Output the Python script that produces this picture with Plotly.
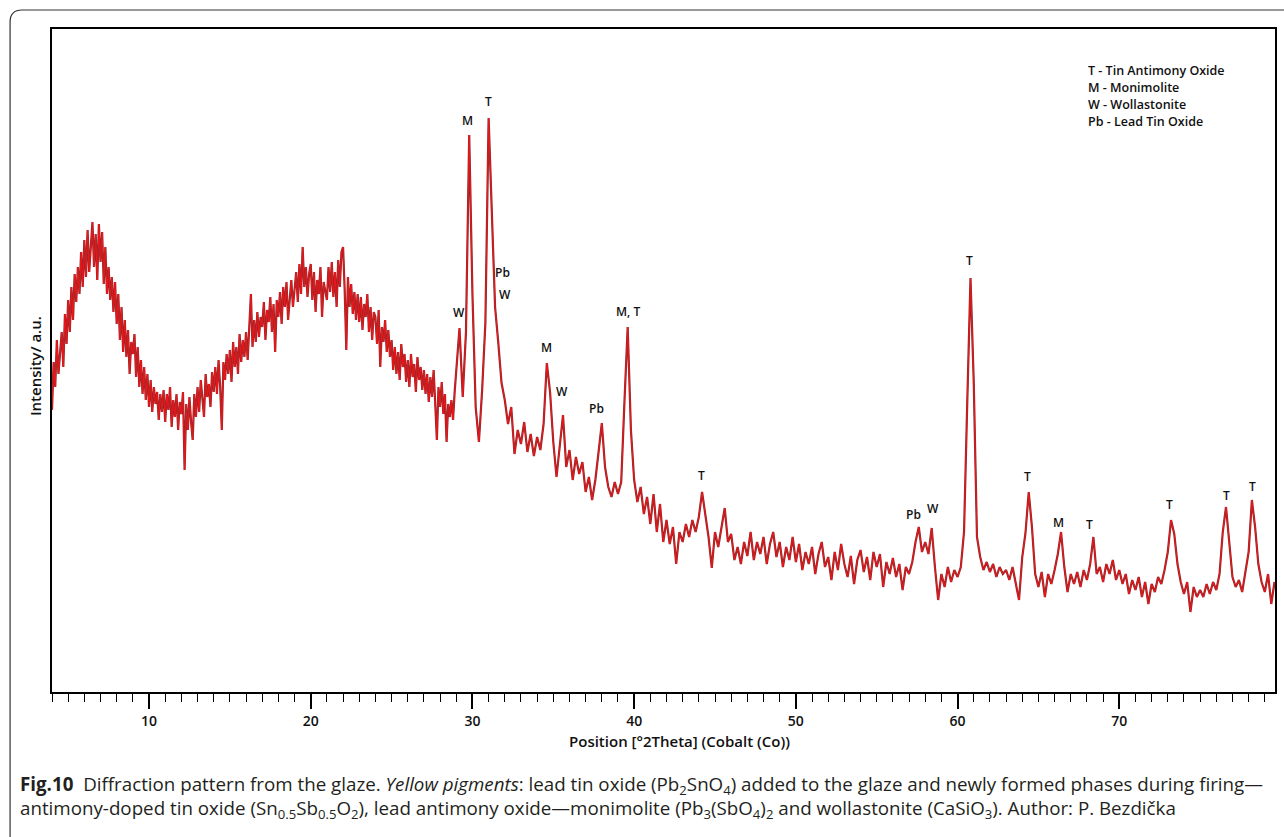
import plotly.graph_objects as go

# ---------------- data (intensity in arbitrary units) ----------------
# scan part A: 4.0 - 28.9 deg, step 0.1
scan_a_start, scan_a_step = 4.0, 0.1
intensity_a = [
    282, 330, 305, 352, 318, 342, 360, 325, 378, 348,   # 4
    392, 360, 405, 372, 418, 390, 425, 398, 440, 405,   # 5
    452, 415, 462, 420, 445, 470, 425, 458, 412, 468,   # 6
    430, 460, 408, 445, 398, 425, 392, 415, 380, 410,   # 7
    368, 398, 352, 385, 340, 372, 335, 362, 318, 350,   # 8
    338, 358, 315, 345, 305, 332, 298, 325, 292, 318,   # 9
    285, 312, 280, 305, 288, 300, 272, 298, 280, 302,   # 10
    270, 298, 282, 305, 265, 292, 275, 298, 262, 290,   # 11
    278, 300, 222, 288, 262, 295, 270, 252, 298, 275,   # 12
    305, 280, 312, 290, 275, 318, 295, 308, 285, 320,   # 13
    300, 325, 298, 332, 305, 262, 330, 312, 338, 318,   # 14
    342, 310, 350, 325, 345, 318, 358, 330, 352, 335,   # 15
    360, 332, 368, 398, 345, 372, 350, 380, 355, 375,   # 16
    365, 390, 352, 382, 370, 395, 360, 388, 340, 392,   # 17
    375, 400, 368, 405, 385, 410, 372, 398, 412, 385,   # 18
    402, 420, 390, 428, 398, 445, 405, 425, 395, 418,   # 19
    428, 392, 420, 380, 412, 398, 425, 375, 410, 400,   # 20
    392, 425, 400, 430, 395, 420, 385, 432, 405, 440,   # 21
    445, 402, 342, 415, 385, 408, 378, 400, 372, 398,   # 22
    370, 395, 362, 388, 375, 398, 360, 385, 352, 380,   # 23
    375, 348, 382, 325, 365, 350, 372, 340, 362, 335,   # 24
    352, 322, 345, 318, 340, 312, 348, 325, 338, 310,   # 25
    332, 305, 338, 315, 328, 300, 335, 312, 325, 302,   # 26
    322, 298, 318, 290, 315, 295, 322, 288, 252, 305,   # 27
    285, 310, 278, 298, 250, 288, 275, 292, 272, 300,   # 28
]
# scan part B: 29.0 - 79.6 deg, step 0.2
scan_b_start, scan_b_step = 29.0, 0.2
intensity_b = [
    319, 364, 295, 360, 557,   # 29
    398, 285, 250, 302, 369,   # 30
    574, 469, 385, 349, 309,   # 31
    292, 268, 285, 238, 262,   # 32
    248, 270, 240, 258, 236,   # 33
    255, 242, 268, 329, 300,   # 34
    250, 215, 245, 277, 225,   # 35
    242, 212, 235, 218, 230,   # 36
    200, 215, 192, 212, 240,   # 37
    269, 225, 205, 195, 210,   # 38
    198, 210, 290, 365, 262,   # 39
    212, 190, 205, 178, 195,   # 40
    168, 198, 160, 188, 150,   # 41
    172, 148, 165, 128, 160,   # 42
    150, 168, 155, 172, 160,   # 43
    175, 200, 178, 155, 124,   # 44
    160, 145, 165, 184, 150,   # 45
    158, 132, 145, 128, 150,   # 46
    136, 160, 132, 150, 138,   # 47
    155, 128, 148, 160, 135,   # 48
    150, 125, 145, 132, 155,   # 49
    130, 148, 122, 140, 128,   # 50
    145, 118, 138, 150, 125,   # 51
    135, 112, 140, 122, 148,   # 52
    128, 115, 136, 108, 132,   # 53
    142, 120, 135, 112, 140,   # 54
    125, 138, 105, 130, 118,   # 55
    134, 115, 128, 102, 125,   # 56
    118, 130, 150, 165, 140,   # 57
    150, 138, 164, 125, 92,    # 58
    118, 105, 125, 110, 122,   # 59
    115, 125, 160, 290, 414,   # 60
    310, 155, 135, 122, 130,   # 61
    120, 128, 115, 125, 118,   # 62
    122, 112, 125, 108, 92,    # 63
    135, 159, 200, 165, 118,   # 64
    105, 120, 95, 118, 108,    # 65
    122, 138, 160, 125, 100,   # 66
    118, 108, 120, 105, 122,   # 67
    112, 128, 155, 118, 125,   # 68
    110, 128, 118, 132, 112,   # 69
    122, 108, 118, 98, 112,    # 70
    102, 115, 95, 110, 88,     # 71
    108, 100, 115, 108, 122,   # 72
    140, 172, 158, 128, 110,   # 73
    98, 110, 80, 105, 95,      # 74
    102, 95, 108, 98, 110,     # 75
    102, 118, 160, 185, 150,   # 76
    115, 105, 112, 100, 118,   # 77
    140, 192, 165, 128, 110,   # 78
    100, 118, 88, 110,         # 79
]
two_theta = ([round(scan_a_start + i * scan_a_step, 1) for i in range(len(intensity_a))]
             + [round(scan_b_start + i * scan_b_step, 1) for i in range(len(intensity_b))])
intensity = intensity_a + intensity_b

x_tick_values = [10, 20, 30, 40, 50, 60, 70]
x_tick_labels = ["10", "20", "30", "40", "50", "60", "70"]

peak_label_text = ["M", "T", "W", "Pb", "W", "M", "W", "Pb", "M, T", "T",
                   "Pb", "W", "T", "T", "M", "T", "T", "T", "T"]
peak_label_x = [29.69, 31.0, 29.15, 31.87, 32.04, 34.60, 35.54, 37.65, 39.63, 44.18,
                57.28, 58.46, 60.74, 64.32, 66.23, 68.15, 73.09, 76.6, 78.21]
peak_label_y = [572, 591, 380, 420, 398, 345, 301, 284, 381, 217,
                178, 184, 432, 216, 170, 168, 188, 197, 206]

phase_key = ["T - Tin Antimony Oxide", "M - Monimolite", "W - Wollastonite", "Pb - Lead Tin Oxide"]

caption_text = ("<b>Fig.10</b>  Diffraction pattern from the glaze. <i>Yellow pigments</i>: lead tin oxide "
                "(Pb<sub>2</sub>SnO<sub>4</sub>) added to the glaze and newly formed phases during firing—<br>"
                "antimony-doped tin oxide (Sn<sub>0.5</sub>Sb<sub>0.5</sub>O<sub>2</sub>), lead antimony oxide—"
                "monimolite (Pb<sub>3</sub>(SbO<sub>4</sub>)<sub>2</sub> and wollastonite (CaSiO<sub>3</sub>). "
                "Author: P. Bezdička")

# ---------------- layout geometry (pixels) ----------------
W, H = 1284, 837
PL, PR, PT, PB = 52, 1277, 29, 692


def px_x(px):
    return (px - PL) / (PR - PL)


def px_y(py):
    return (PB - py) / (PB - PT)


fig = go.Figure()
fig.add_trace(go.Scatter(x=two_theta, y=intensity, mode="lines",
                         line=dict(color="#8e2a2a", width=2.2),
                         hoverinfo="skip", showlegend=False))
fig.add_trace(go.Scatter(x=two_theta, y=intensity, mode="lines",
                         line=dict(color="#f2141a", width=1.0), showlegend=False))

annotations = []
lab_font = dict(family="Open Sans, Arial, sans-serif", size=12, color="#111111", weight=600)
for t, x, y in zip(peak_label_text, peak_label_x, peak_label_y):
    annotations.append(dict(x=x, y=y, xref="x", yref="y", text=t, showarrow=False,
                            font=lab_font, xanchor="center", yanchor="middle"))

for i, line in enumerate(phase_key):
    annotations.append(dict(x=px_x(1088), y=px_y(70 + i * 17.2), xref="paper", yref="paper",
                            text=line, showarrow=False, xanchor="left", yanchor="middle",
                            font=dict(family="Open Sans, Arial, sans-serif", size=12.5,
                                      color="#111111", weight=600)))

annotations.append(dict(x=px_x(35), y=px_y(366), xref="paper", yref="paper",
                        text="Intensity/ a.u.", textangle=-90, showarrow=False,
                        xanchor="center", yanchor="middle",
                        font=dict(family="Open Sans, Arial, sans-serif", size=15,
                                  color="#111111", weight=600)))
annotations.append(dict(x=px_x(681), y=px_y(741), xref="paper", yref="paper",
                        text="Position [°2Theta] (Cobalt (Co))", showarrow=False,
                        xanchor="center", yanchor="middle",
                        font=dict(family="Open Sans, Arial, sans-serif", size=15,
                                  color="#111111", weight=600)))
annotations.append(dict(x=px_x(18), y=px_y(797), xref="paper", yref="paper", text=caption_text,
                        showarrow=False, xanchor="left", yanchor="middle", align="left",
                        font=dict(family="Open Sans, sans-serif", size=18.75, color="#231f20")))

# rounded card outline
cx0, cy0, r = 10, 10, 12
path = (f"M {px_x(cx0)} {px_y(900)} L {px_x(cx0)} {px_y(cy0 + r)} "
        f"Q {px_x(cx0)} {px_y(cy0)} {px_x(cx0 + r)} {px_y(cy0)} L {px_x(1400)} {px_y(cy0)}")
shapes = [dict(type="path", xref="paper", yref="paper", path=path,
               line=dict(color="#333333", width=1.2), layer="below")]

fig.update_layout(
    width=W, height=H,
    margin=dict(l=PL, r=W - PR, t=PT, b=H - PB, pad=0),
    paper_bgcolor="white", plot_bgcolor="white",
    annotations=annotations, shapes=shapes,
    xaxis=dict(range=[4.0, 79.63], showgrid=False, zeroline=False,
               showline=True, linecolor="black", linewidth=2, mirror=True,
               ticks="outside", ticklen=15, tickwidth=1.5, tickcolor="black",
               tickvals=x_tick_values, ticktext=x_tick_labels,
               tickfont=dict(family="Open Sans, Arial, sans-serif", size=14, color="#111111", weight=600),
               minor=dict(dtick=1, tick0=0, ticks="outside", ticklen=8, tickwidth=1.2,
                          tickcolor="black", showgrid=False)),
    yaxis=dict(range=[0, 663], showgrid=False, zeroline=False, showticklabels=False,
               showline=True, linecolor="black", linewidth=2, mirror=True, ticks=""),
)

fig.write_html("out.html")
